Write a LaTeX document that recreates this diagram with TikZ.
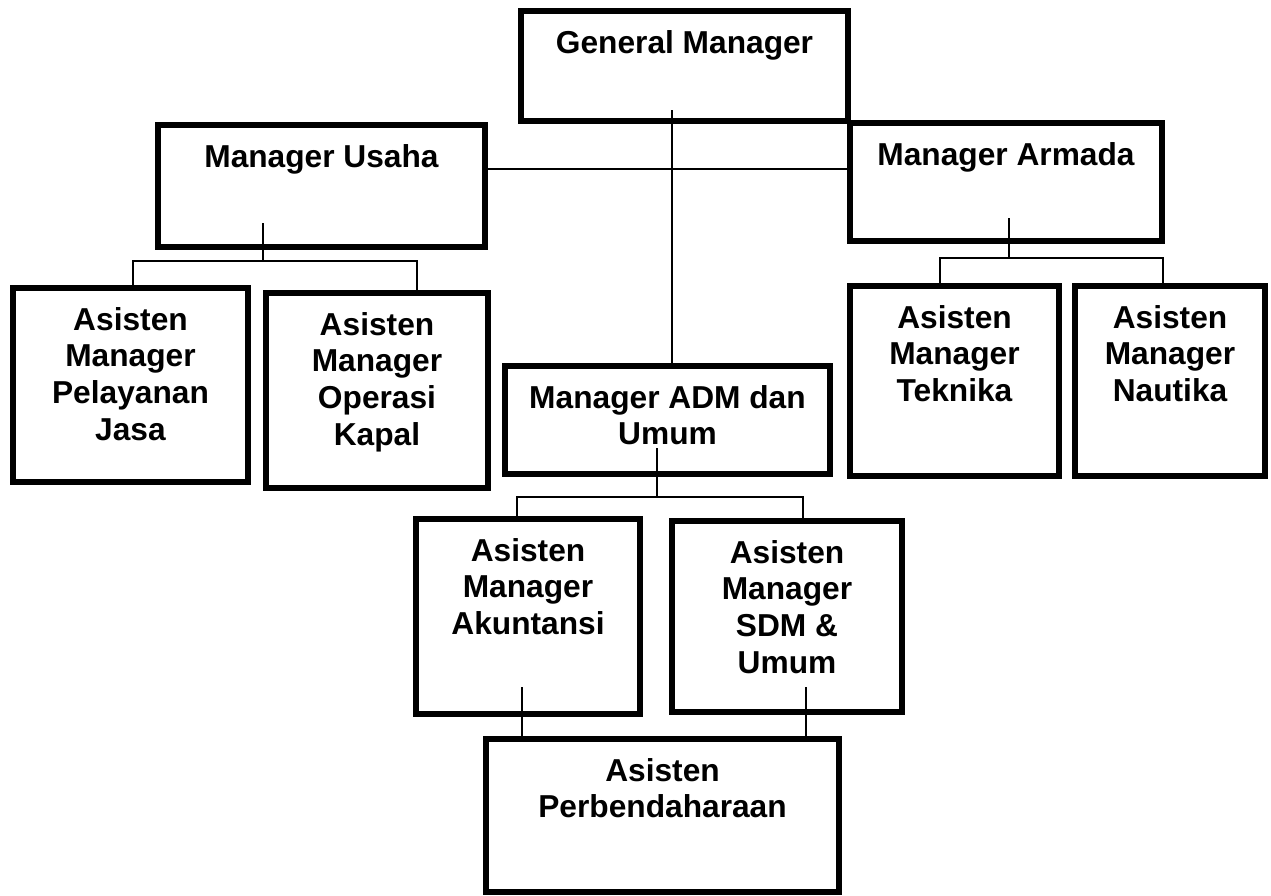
\documentclass[tikz,border=0pt]{standalone}
\usepackage{fontspec}
\setmainfont{Liberation Sans}
\begin{document}
\begin{tikzpicture}[x=1pt,y=-1pt,
  orgbox/.style={draw=black, line width=6pt, inner sep=0pt, outer sep=0pt},
  orgtxt/.style={anchor=north, inner sep=0pt, align=center, font=\fontsize{31.7}{36.8}\selectfont\bfseries},
  link/.style={draw=black, line width=1.8pt}]
\useasboundingbox (0,0) rectangle (1271,895);
\fill[white] (0,0) rectangle (1271,895);

% boxes
\node[orgbox, minimum width=327pt, minimum height=110pt] (gm)   at (684.5,66)  {};
\node[orgbox, minimum width=327pt, minimum height=122pt] (mu)   at (321.5,186) {};
\node[orgbox, minimum width=312pt, minimum height=118pt] (ma)   at (1006,182)  {};
\node[orgbox, minimum width=235pt, minimum height=194pt] (pel)  at (130.5,385) {};
\node[orgbox, minimum width=222pt, minimum height=195pt] (op)   at (377,390.5) {};
\node[orgbox, minimum width=325pt, minimum height=108pt] (adm)  at (667.5,420) {};
\node[orgbox, minimum width=209pt, minimum height=190pt] (tek)  at (954.5,381) {};
\node[orgbox, minimum width=190pt, minimum height=190pt] (nau)  at (1170,381)  {};
\node[orgbox, minimum width=224pt, minimum height=195pt] (ak)   at (528,616.5) {};
\node[orgbox, minimum width=230pt, minimum height=191pt] (sdm)  at (787,616.5) {};
\node[orgbox, minimum width=353pt, minimum height=153pt] (perb) at (662.5,815.5) {};

% texts
\node[orgtxt] (gmt)   at ([yshift=-16.2pt]gm.north)   {\strut General Manager};
\node[orgtxt] (mut)   at ([yshift=-16.2pt]mu.north)   {\strut Manager Usaha};
\node[orgtxt] (mat)   at ([yshift=-16.2pt]ma.north)   {\strut Manager Armada};
\node[orgtxt] (pelt)  at ([yshift=-16.2pt]pel.north)  {\strut Asisten\\Manager\\Pelayanan\\Jasa};
\node[orgtxt] (opt)   at ([yshift=-16.2pt]op.north)   {\strut Asisten\\Manager\\Operasi\\Kapal};
\node[orgtxt] (admt)  at ([yshift=-16.2pt]adm.north)  {\strut Manager ADM dan\\Umum};
\node[orgtxt] (tekt)  at ([yshift=-16.2pt]tek.north)  {\strut Asisten\\Manager\\Teknika};
\node[orgtxt] (naut)  at ([yshift=-16.2pt]nau.north)  {\strut Asisten\\Manager\\Nautika};
\node[orgtxt] (akt)   at ([yshift=-16.2pt]ak.north)   {\strut Asisten\\Manager\\Akuntansi};
\node[orgtxt] (sdmt)  at ([yshift=-16.2pt]sdm.north)  {\strut Asisten\\Manager\\SDM \&\\Umum};
\node[orgtxt] (perbt) at ([yshift=-16.2pt]perb.north) {\strut Asisten\\Perbendaharaan};

% connector points
\coordinate (gmS)    at (672,110);
\coordinate (hl)     at (672,169);
\coordinate (muS)    at (263,223);
\coordinate (muBus)  at (263,261);
\coordinate (pelT)   at (133,285);
\coordinate (opT)    at (417,290);
\coordinate (maS)    at (1009,218);
\coordinate (maBus)  at (1009,258);
\coordinate (tekT)   at (940,283);
\coordinate (nauT)   at (1163,283);
\coordinate (admS)   at (657,448);
\coordinate (admBus) at (657,497);
\coordinate (akT)    at (517,516);
\coordinate (sdmT)   at (803,518);
\coordinate (akS)    at (522,687);
\coordinate (sdmS)   at (806,687);

% connectors
\draw[link] (gmS) -- (gmS |- adm.north);
\draw[link] (hl -| mu.east) -- (hl -| ma.west);

\draw[link] (muS) -- (muBus);
\draw[link] (pelT) |- (opT |- muBus) -- (opT);

\draw[link] (maS) -- (maBus);
\draw[link] (tekT) |- (nauT |- maBus) -- (nauT);

\draw[link] (admS) -- (admBus);
\draw[link] (akT) |- (sdmT |- admBus) -- (sdmT);

\draw[link] (akS) -- (akS |- perb.north);
\draw[link] (sdmS) -- (sdmS |- perb.north);
\end{tikzpicture}
\end{document}
